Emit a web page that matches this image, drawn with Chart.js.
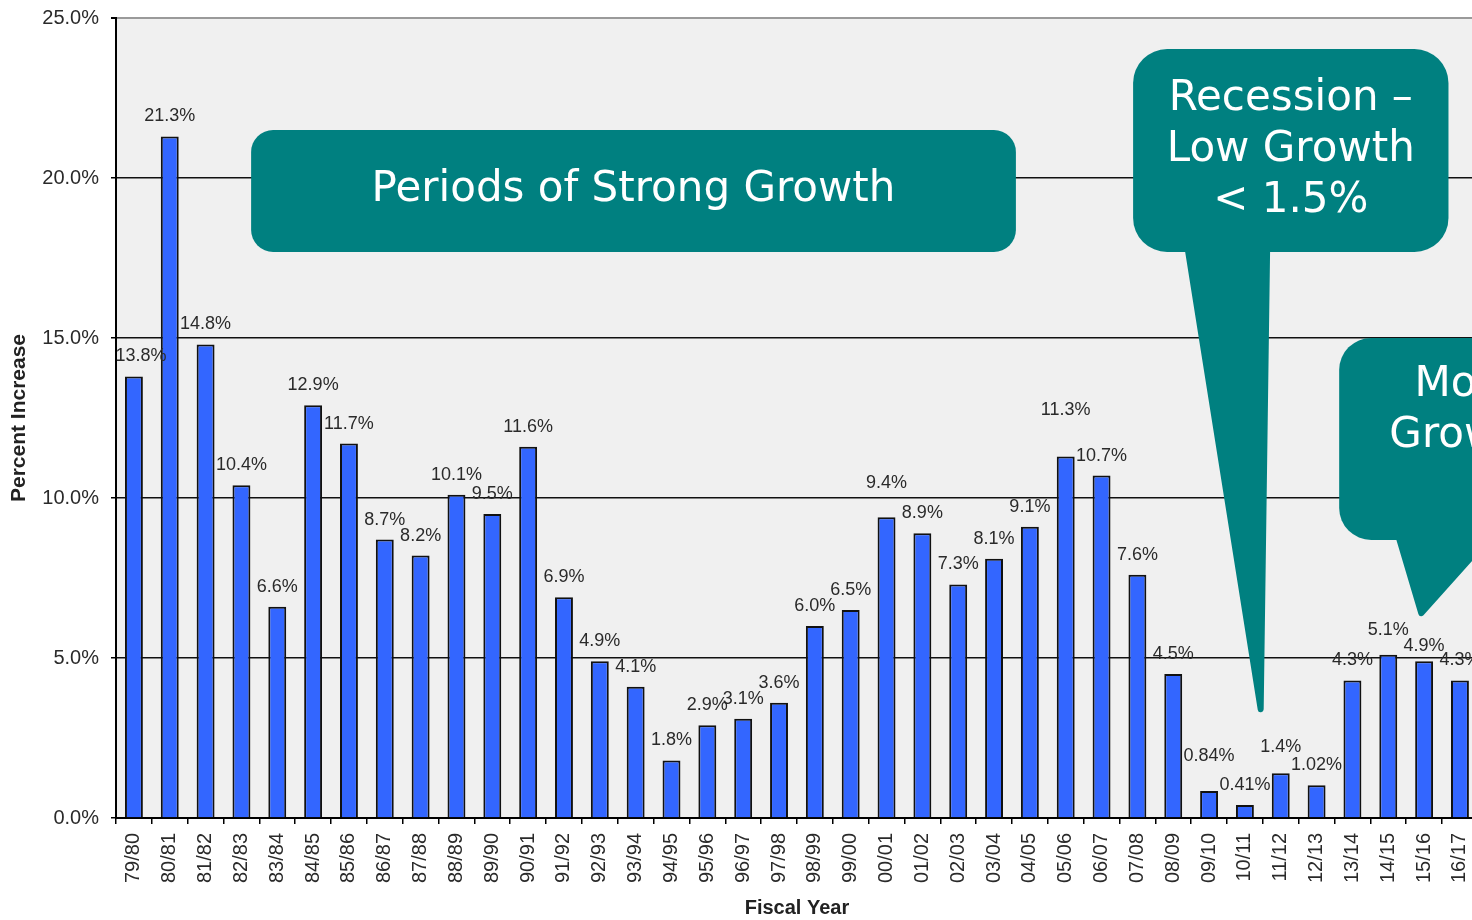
<!DOCTYPE html>
<html>
<head>
<meta charset="utf-8">
<script src="https://cdn.jsdelivr.net/npm/chart.js@4.4.1/dist/chart.umd.min.js"></script>
<style>
  html, body { margin: 0; padding: 0; background: #fff; overflow: hidden; }
  #wrap { position: relative; width: 1493px; height: 920px; }
</style>
</head>
<body>
<div id="wrap"><canvas id="growthChart" width="1493" height="920"></canvas></div>
<script>
// --- DATA ---
const fiscalYears = [
  '79/80', '80/81', '81/82', '82/83', '83/84', '84/85', '85/86', '86/87', '87/88', '88/89',
  '89/90', '90/91', '91/92', '92/93', '93/94', '94/95', '95/96', '96/97', '97/98', '98/99',
  '99/00', '00/01', '01/02', '02/03', '03/04', '04/05', '05/06', '06/07', '07/08', '08/09',
  '09/10', '10/11', '11/12', '12/13', '13/14', '14/15', '15/16', '16/17'
];
const pctIncrease = [
  13.8, 21.3, 14.8, 10.4, 6.6, 12.9, 11.7, 8.7, 8.2, 10.1,
  9.5, 11.6, 6.9, 4.9, 4.1, 1.8, 2.9, 3.1, 3.6, 6.0,
  6.5, 9.4, 8.9, 7.3, 8.1, 9.1, 11.3, 10.7, 7.6, 4.5,
  0.84, 0.41, 1.4, 1.02, 4.3, 5.1, 4.9, 4.3
];
const yMin = 0, yMax = 25, yStep = 5;

// callouts, placed in category-index / percent space
const callouts = [
  { x0: 3.27, x1: 24.61, top: 21.5, bottom: 17.69, radius: 22, textTop: 60,
    lines: ['Periods of Strong Growth'] },
  { x0: 27.88, x1: 36.68, top: 24.03, bottom: 17.69, radius: 34, textTop: 50,
    lines: ['Recession \u2013', 'Low Growth', '< 1.5%'],
    tail: { left: 29.40, right: 31.62, tipX: 31.44, tipY: 3.4 } },
  { x0: 33.63, x1: 42.46, top: 15.0, bottom: 8.69, radius: 32, textTop: 47,
    lines: ['Moderate', 'Growth'], lineX: [35.73, 35.03],
    tail: { left: 35.28, right: 37.85, tipX: 35.92, tipY: 6.4 } }
];

// --- STYLE ---
const FONT = "'Liberation Sans', Arial, sans-serif";
const CALLOUT_FONT = "'DejaVu Sans', Verdana, sans-serif";
const TEAL = '#008080';
// small nudges [dx, extra lift] for labels that sit off their usual spot
const labelNudge = { 0: [7, 0], 21: [0, 14], 26: [0, 26], 30: [0, 15], 32: [0, 6], 35: [0, 5], 36: [0, -5] };

function fmtPct(v) {
  const twoDec = Math.round(v * 100) % 10 !== 0;
  return v.toFixed(twoDec ? 2 : 1) + '%';
}

const plotBackground = {
  id: 'plotBackground',
  beforeDraw(chart) {
    const { ctx, chartArea: a } = chart;
    ctx.save();
    ctx.fillStyle = '#f0f0f0';
    ctx.fillRect(a.left, a.top, a.right - a.left, a.bottom - a.top);
    ctx.restore();
  }
};

const barValueLabels = {
  id: 'barValueLabels',
  afterDatasetsDraw(chart) {
    const { ctx } = chart;
    const meta = chart.getDatasetMeta(0);
    ctx.save();
    ctx.font = '18px ' + FONT;
    ctx.fillStyle = '#2a2a2a';
    ctx.textAlign = 'center';
    ctx.textBaseline = 'middle';
    meta.data.forEach((bar, i) => {
      const n = labelNudge[i] || [0, 0];
      ctx.fillText(fmtPct(pctIncrease[i]), bar.x + n[0], bar.y - 20 - n[1]);
    });
    ctx.restore();
  }
};

const calloutBoxes = {
  id: 'calloutBoxes',
  afterDraw(chart) {
    const { ctx } = chart;
    const xs = chart.scales.x, ys = chart.scales.y;
    ctx.save();
    callouts.forEach(c => {
      const left = xs.getPixelForValue(c.x0), right = xs.getPixelForValue(c.x1);
      const top = ys.getPixelForValue(c.top), bottom = ys.getPixelForValue(c.bottom);
      ctx.fillStyle = TEAL;
      ctx.strokeStyle = TEAL;
      ctx.beginPath();
      ctx.roundRect(left, top, right - left, bottom - top, c.radius);
      ctx.fill();
      if (c.tail) {
        ctx.beginPath();
        ctx.moveTo(xs.getPixelForValue(c.tail.left), bottom - 4);
        ctx.lineTo(xs.getPixelForValue(c.tail.tipX), ys.getPixelForValue(c.tail.tipY));
        ctx.lineTo(xs.getPixelForValue(c.tail.right), bottom - 4);
        ctx.closePath();
        ctx.lineJoin = 'round';
        ctx.lineWidth = 6;
        ctx.fill();
        ctx.stroke();
      }
      ctx.fillStyle = '#fff';
      ctx.font = '42px ' + CALLOUT_FONT;
      ctx.textBaseline = 'middle';
      c.lines.forEach((line, k) => {
        const y = top + c.textTop + k * 51;
        if (c.lineX) {
          ctx.textAlign = 'left';
          ctx.fillText(line, xs.getPixelForValue(c.lineX[k]), y);
        } else {
          ctx.textAlign = 'center';
          ctx.fillText(line, (left + right) / 2, y);
        }
      });
    });
    ctx.restore();
  }
};

new Chart(document.getElementById('growthChart'), {
  type: 'bar',
  data: {
    labels: fiscalYears,
    datasets: [{
      data: pctIncrease,
      backgroundColor: '#3366ff',
      borderColor: '#111',
      borderWidth: 2,
      barPercentage: 0.5,
      categoryPercentage: 1.0
    }]
  },
  options: {
    responsive: false,
    animation: false,
    layout: { padding: { top: 18, right: 4, left: 0, bottom: 0 } },
    plugins: { legend: { display: false }, tooltip: { enabled: false } },
    scales: {
      x: {
        grid: { drawOnChartArea: false, drawTicks: true, tickLength: 6, color: '#000', lineWidth: 1.5, offset: true },
        border: { color: '#000', width: 2 },
        ticks: { autoSkip: false, minRotation: 90, maxRotation: 90, padding: 9, color: '#2a2a2a', font: { family: FONT, size: 20 } },
        title: { display: true, text: 'Fiscal Year', color: '#222', padding: 0, font: { family: FONT, size: 20, weight: 'bold' } },
        afterFit(scale) { scale.height = 102; }
      },
      y: {
        min: yMin,
        max: yMax,
        ticks: { stepSize: yStep, padding: 12, color: '#2a2a2a', font: { family: FONT, size: 20 },
                 callback: v => v.toFixed(1) + '%' },
        grid: {
          color: c => (c.tick && c.tick.value === yMax) ? '#9a9a9a' : '#111',
          lineWidth: c => (c.tick && c.tick.value === yMax) ? 2 : 1.5,
          tickColor: '#000', tickLength: 5
        },
        border: { color: '#000', width: 2 },
        title: { display: true, text: 'Percent Increase', color: '#222', padding: { top: 7, bottom: 0 },
                 font: { family: FONT, size: 21, weight: 'bold' } },
        afterFit(scale) {
          scale.width = 116;
          scale.paddingTop = 0;
          scale.paddingBottom = 0;
        }
      }
    }
  },
  plugins: [plotBackground, barValueLabels, calloutBoxes]
});
</script>
</body>
</html>
